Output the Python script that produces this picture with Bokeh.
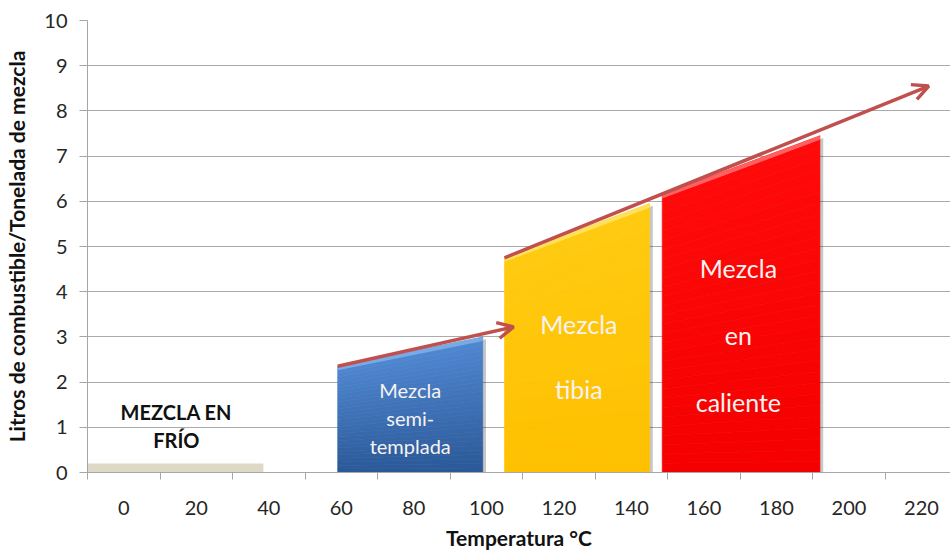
from bokeh.plotting import figure
from bokeh.models import Range1d, FixedTicker, Arrow, OpenHead, ColumnDataSource
from bokeh.core.properties import value
from bokeh.embed import file_html
from bokeh.resources import INLINE

# ---------------- data ----------------
x_tick_labels = [0, 20, 40, 60, 80, 100, 120, 140, 160, 180, 200, 220]
category_edges = [-10, 10, 30, 50, 70, 90, 110, 130, 150, 170, 190, 210]
y_ticks = [0, 1, 2, 3, 4, 5, 6, 7, 8, 9, 10]

# cold mix (fuel ~ 0)
cold_temp = [-10, 38.5]
cold_fuel = [0, 0.2]

# heated mixes: temperature span and fuel at each end
mix_names = ["semi", "tibia", "caliente"]
mix_t_start = [59, 105, 148.5]
mix_t_end = [99, 145, 192]
mix_fuel_start = [2.35, 4.75, 6.15]
mix_fuel_end = [3.0, 5.95, 7.45]
mix_color_bottom = ["#2A5897", "#FFC000", "#F50000"]
mix_color_top = ["#5088D2", "#FFCB10", "#FF0A0A"]
mix_highlight = ["#7FB0EA", "#FFE46A", "#FF7070"]

# trend arrows
arrow_t0 = [59, 105]
arrow_f0 = [2.35, 4.75]
arrow_t1 = [107.5, 222]
arrow_f1 = [3.22, 8.55]

# labels
label_text = ["Mezcla", "semi-", "templada", "Mezcla", "tibia", "Mezcla", "en", "caliente"]
label_t = [79, 79, 79, 125.5, 125.5, 169.5, 169.5, 169.5]
label_f = [1.82, 1.21, 0.59, 3.29, 1.84, 4.52, 3.05, 1.56]
label_size = ["20px", "20px", "20px", "25px", "25px", "25px", "25px", "25px"]

cold_label = ["MEZCLA EN", "FRÍO"]
cold_label_t = [14.5, 14.5]
cold_label_f = [1.34, 0.72]

FONT = "Lato"
AXIS_GRAY = "#A6A6A6"

p = figure(width=950, height=552, x_range=Range1d(-10, 228), y_range=Range1d(0, 10),
           output_backend="svg", toolbar_location=None,
           min_border_left=87, min_border_right=0, min_border_top=20, min_border_bottom=76)
p.outline_line_color = None
p.background_fill_color = "white"

# grid
p.xgrid.visible = False
p.ygrid.ticker = FixedTicker(ticks=y_ticks)
p.ygrid.grid_line_color = "#ABABAB"
p.ygrid.grid_line_width = 1

# x axis: labels centred in categories, tick marks on category edges
xa = p.xaxis[0]
xa.ticker = FixedTicker(ticks=x_tick_labels, minor_ticks=category_edges)
xa.major_tick_out = 0
xa.major_tick_in = 0
xa.minor_tick_out = 7
xa.minor_tick_in = 0
xa.minor_tick_line_color = AXIS_GRAY
xa.axis_line_color = AXIS_GRAY
xa.major_label_text_font = FONT
xa.major_label_text_font_size = "20px"
xa.major_label_text_color = "#262626"
xa.major_label_standoff = 21
xa.axis_label = "Temperatura °C"
xa.axis_label_text_font = FONT
xa.axis_label_text_font_style = "bold"
xa.axis_label_text_font_size = "21px"
xa.axis_label_text_color = "#111111"
xa.axis_label_standoff = 7

ya = p.yaxis[0]
ya.ticker = FixedTicker(ticks=y_ticks)
ya.major_tick_out = 8
ya.major_tick_in = 0
ya.minor_tick_out = 0
ya.minor_tick_in = 0
ya.major_tick_line_color = AXIS_GRAY
ya.axis_line_color = AXIS_GRAY
ya.major_label_text_font = FONT
ya.major_label_text_font_size = "20px"
ya.major_label_text_color = "#262626"
ya.major_label_standoff = 12
ya.axis_label = "Litros de combustible/Tonelada de mezcla"
ya.axis_label_text_font = FONT
ya.axis_label_text_font_style = "bold"
ya.axis_label_text_font_size = "21px"
ya.axis_label_text_color = "#111111"
ya.axis_label_standoff = 12

# cold mix bar
p.quad(left=[cold_temp[0]], right=[cold_temp[1]], bottom=[cold_fuel[0]], top=[cold_fuel[1]],
       fill_color="#DDD9C4", line_color=None)


def hex_to_rgb(h):
    h = h.lstrip("#")
    return tuple(int(h[i:i + 2], 16) for i in (0, 2, 4))


def mix(c0, c1, t):
    a, b = hex_to_rgb(c0), hex_to_rgb(c1)
    return "#%02x%02x%02x" % tuple(int(round(a[i] + (b[i] - a[i]) * t)) for i in range(3))


# shadows
sh_xs, sh_ys = [], []
for xl, xr, yl, yr in zip(mix_t_start, mix_t_end, mix_fuel_start, mix_fuel_end):
    sh_xs.append([xl + 0.9, xr + 0.9, xr + 0.9, xl + 0.9])
    sh_ys.append([0, 0, yr - 0.05, yl - 0.05])
p.patches(sh_xs, sh_ys, fill_color="#000000", fill_alpha=0.22, line_color=None)

# gradient bodies
N = 30
xs, ys, cols = [], [], []
for xl, xr, yl, yr, cb, ct in zip(mix_t_start, mix_t_end, mix_fuel_start, mix_fuel_end,
                                  mix_color_bottom, mix_color_top):
    for k in range(N):
        t0, t1 = k / N, (k + 1) / N
        xs.append([xl, xr, xr, xl])
        ys.append([t0 * yl, t0 * yr, t1 * yr, t1 * yl])
        cols.append(mix(cb, ct, (t0 + t1) / 2))
p.patches(xs, ys, fill_color=cols, line_color=cols, line_width=0.6)

# top bevel highlight
hx, hy = [], []
for xl, xr, yl, yr in zip(mix_t_start, mix_t_end, mix_fuel_start, mix_fuel_end):
    hx.append([xl, xr, xr, xl])
    hy.append([yl - 0.09, yr - 0.09, yr, yl])
p.patches(hx, hy, fill_color=mix_highlight, fill_alpha=0.85, line_color=None)

# arrows
arrow_src = ColumnDataSource(dict(x0=arrow_t0, y0=arrow_f0, x1=arrow_t1, y1=arrow_f1))
p.add_layout(Arrow(source=arrow_src, x_start="x0", y_start="y0", x_end="x1", y_end="y1",
                   line_color="#C0504D", line_width=3.5,
                   end=OpenHead(size=16, line_color="#C0504D", line_width=3.5)))

# labels
lab_src = ColumnDataSource(dict(x=label_t, y=label_f, text=label_text, size=label_size))
p.text(x="x", y="y", text="text", source=lab_src, text_font=value(FONT),
       text_font_size="size", text_color="#F7F2F2", text_align="center", text_baseline="middle")

p.text(x=cold_label_t, y=cold_label_f, text=cold_label, text_font=value(FONT),
       text_font_style="bold", text_font_size="20px", text_color="#111111",
       text_align="center", text_baseline="middle")

open("out.html", "w").write(file_html(p, INLINE))
